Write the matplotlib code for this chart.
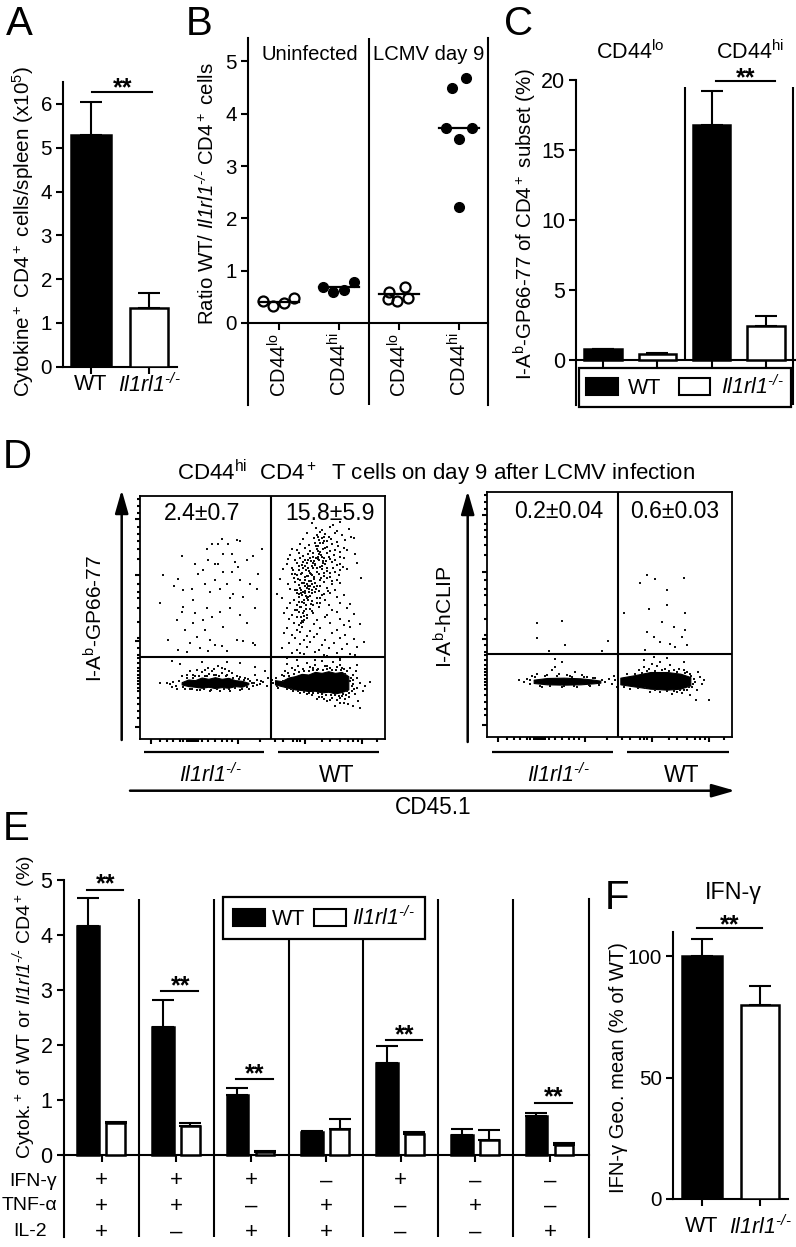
import numpy as np
import matplotlib
matplotlib.use('Agg')
import matplotlib.pyplot as plt
from matplotlib.patches import FancyArrowPatch, Patch
from matplotlib.lines import Line2D

W, H = 796, 1247
plt.rcParams['font.family'] = ['Liberation Sans', 'DejaVu Sans']
plt.rcParams['mathtext.fontset'] = 'custom'
plt.rcParams['mathtext.rm'] = 'Liberation Sans'
plt.rcParams['mathtext.it'] = 'Liberation Sans:italic'
plt.rcParams['mathtext.cal'] = 'Liberation Sans:italic'
plt.rcParams['mathtext.default'] = 'regular'
plt.rcParams['axes.linewidth'] = 1.5
plt.rcParams['font.size'] = 14.8

KO = '$\\mathcal{Il1rl1}^{\\mathcal{\u2010/\u2010}}$'

# panel A
a_means = [5.28, 1.35]
a_errs = [0.77, 0.34]
a_labels = ['WT', KO]

# panel B, ratios per group with sideways offset of each dot
b_groups = ['CD44$^{lo}$', 'CD44$^{hi}$', 'CD44$^{lo}$', 'CD44$^{hi}$']
b_values = [[0.42, 0.33, 0.39, 0.47],
            [0.68, 0.60, 0.64, 0.79],
            [0.60, 0.68, 0.45, 0.43, 0.47],
            [3.72, 4.50, 3.51, 3.73, 4.68, 2.22]]
b_offsets = [[-0.26, -0.09, 0.09, 0.26],
             [-0.26, -0.09, 0.09, 0.26],
             [-0.17, 0.10, -0.18, -0.04, 0.15],
             [-0.22, -0.12, 0.0, 0.21, 0.12, 0.0]]
b_medians = [0.41, 0.68, 0.55, 3.73]
b_open = [True, False, True, False]

# panel C
c_means = [0.76, 0.43, 16.8, 2.4]
c_errs = [0.05, 0.04, 2.4, 0.74]

# panel E
e_wt = [4.16, 2.33, 1.09, 0.42, 1.67, 0.37, 0.71]
e_wt_err = [0.51, 0.49, 0.12, 0.01, 0.31, 0.11, 0.05]
e_ko = [0.58, 0.53, 0.06, 0.47, 0.38, 0.27, 0.18]
e_ko_err = [0.02, 0.05, 0.01, 0.18, 0.04, 0.18, 0.04]
e_ifn = ['+', '+', '+', '–', '+', '–', '–']
e_tnf = ['+', '+', '–', '+', '–', '+', '–']
e_il2 = ['+', '–', '+', '+', '–', '–', '+']
e_sig = [(0, 4.82), (1, 2.98), (2, 1.38), (4, 2.09), (6, 0.95)]

# panel F
f_means = [100, 80]
f_errs = [7, 7.6]

# panel D, flow plots. channels 0-735 on both axes
d_yticks = [665, 495, 295, 36]
d_yminor = [725, 705, 685, 640, 620, 600, 575, 545, 470, 445, 425, 395, 355, 305, 275, 255, 245, 230,
            215, 205, 195, 185, 175, 165, 155, 145, 125, 105, 85, 65]
d_xticks = [32, 295, 495, 665]
d_xminor = [60, 80, 100, 120, 130, 140, 145, 150, 155, 160, 165, 170, 175, 185, 205, 225, 245, 260, 275,
            360, 405, 430, 460, 470, 480, 545, 570, 600, 625, 640, 655, 710]

d1_wt_cloud = [(515,652),(578,648),(601,655),(528,637),(546,631),(571,640),(590,628),(626,634),(500,622),(531,616),(541,626),(556,619),
(566,612),(586,622),(606,617),(632,611),(490,604),(521,608),(536,601),(551,610),(560,598),(573,604),(591,596),(616,601),(641,607),(480,590),
(506,586),(525,594),(535,583),(548,592),(561,581),(576,589),(595,585),(611,578),(455,576),(471,571),(495,578),(510,570),(530,574),(541,566),
(555,577),(571,569),(585,573),(601,566),(621,572),(451,558),(476,563),(490,555),(505,561),(520,552),(536,559),(545,550),(560,562),(581,556),
(600,552),(646,560),(445,545),(466,540),(481,548),(496,541),(511,547),(522,538),(535,544),(550,537),(566,549),(586,541),(611,546),(440,528),
(471,533),(486,526),(501,531),(515,524),(526,530),(540,521),(556,528),(576,534),(590,525),(652,531),(430,513),(456,518),(476,510),(490,516),
(506,509),(518,517),(531,506),(546,514),(561,508),(580,518),(600,511),(621,515),(455,500),(471,495),(486,503),(500,494),(512,500),(523,491),
(536,498),(551,492),(570,502),(596,496),(420,485),(461,487),(481,480),(496,489),(508,478),(521,486),(541,480),(560,488),(591,481),(662,487),
(445,470),(465,474),(476,466),(491,472),(505,464),(516,470),(531,462),(551,474),(576,468),(601,471),(451,455),(466,450),(481,458),(496,448),
(506,453),(521,460),(536,447),(561,456),(586,450),(410,440),(471,443),(486,436),(496,441),(511,434),(526,444),(546,436),(571,441),(611,437),
(425,426),(461,421),(476,429),(491,420),(501,427),(516,418),(531,425),(556,420),(591,428),(451,411),(471,406),(486,413),(498,404),(512,409),
(541,412),(566,405),(601,410),(631,407),(441,396),(466,391),(481,399),(491,388),(511,394),(536,398),(576,390),(621,396),(431,380),(456,376),
(476,384),(491,372),(520,380),(561,375),(591,383),(641,378),(446,364),(471,368),(486,358),(500,366),(530,360),(556,368),(601,362),(461,350),
(478,345),(490,353),(521,347),(571,352),(611,345),(626,356),(661,349),(441,335),(471,331),(486,338),(511,328),(541,336),(591,330),(631,338),
(431,320),(456,315),(481,323),(501,312),(531,319),(576,322),(616,314),(466,305),(491,300),(521,308),(556,298),(601,306),(641,301),(446,290),
(481,286),(511,293),(546,284),(581,291),(621,286),(671,294),(426,275),(471,270),(501,278),(536,268),(566,276),(606,271),(651,279),(456,260),
(491,256),(526,263),(551,254),(591,261),(631,257),(441,245),(481,259),(516,247),(561,251),(601,246),(646,255),(681,249)]
# darkest part of that cloud, read separately
d1_wt_dense = [(533,552),(538,541),(528,546),(543,558),(548,531),(518,532),(524,526),(530,518),(513,538),(503,518),(498,510),(509,503),(516,496),
(504,492),(522,484),(513,478),(494,480),(487,472),(502,469),(511,462),(494,462),(483,452),(500,456),(508,446),(516,452),(525,472),(490,446),
(484,443),(498,434),(505,428),(476,440),(470,452),(515,442),(527,455),(539,462),(544,486),(553,503),(546,522),(559,538),(552,548),(570,544),
(561,518),(482,498),(474,484),(466,500),(458,510),(489,534),(478,524),(495,524),(505,540),(520,562),(535,570),(548,575),(528,584),(540,592),
(552,600),(545,607),(534,612),(492,410),(484,400),(497,392),(488,380),(500,374),(482,370),(492,360),(484,350),(470,390),(478,415),(505,420),
(520,405),(530,412),(515,388),(540,425),(552,440),(564,448),(575,478),(570,490),(585,505),(600,530),(610,520)]
d1_ko_cloud = [(125,553),(70,495),(115,483),(102,462),(200,574),(235,590),(290,603),(300,600),(275,560),(225,528),(235,530),(285,535),(295,520),
(365,575),(320,540),(340,555),(130,450),(160,420),(195,470),(210,445),(240,455),(260,470),(280,440),(310,430),(175,500),(190,510),(165,530),
(250,505),(225,480),(300,480),(330,470),(350,455),(125,385),(130,400),(165,380),(160,350),(200,395),(215,370),(190,360),(240,385),(270,395),
(300,375),(345,395),(110,360),(135,330),(195,330),(210,300),(225,285),(170,310),(245,280),(250,340),(290,300),(340,290),(310,295),(345,285),
(150,290),(180,275),(205,265),(260,265),(115,270),(140,262),(85,300),(60,410),(245,605),(205,540),(265,590),(155,455),(275,505),(250,560),
(215,590),(355,500),(270,425),(320,350)]
d1_ko_blob_x = [125, 145, 165, 185, 205, 225, 245, 265, 285, 305, 325]
d1_ko_blob_lo = [165, 160, 158, 155, 158, 154, 157, 155, 160, 158, 166]
d1_ko_blob_hi = [172, 180, 178, 186, 182, 187, 182, 185, 178, 176, 170]
d1_ko_stray = [(80,170),(90,165),(100,172),(108,160),(95,158),(112,150),(125,190),(140,195),(150,205),(165,190),(172,210),(185,202),(195,192),
(205,215),(215,205),(228,195),(235,220),(245,200),(255,212),(262,195),(275,200),(290,192),(300,188),(315,185),(325,180),(335,170),(340,160),
(350,178),(360,165),(370,172),(380,160),(385,185),(328,150),(300,148),(270,146),(240,145),(210,146),(180,148),(155,150),(135,152),(260,232),
(185,232),(120,228),(95,235),(300,230),(345,218),(375,205),(60,168),(345,195),(118,176),(130,158),(142,184),(150,152),(160,186),(170,148),
(178,192),(192,150),(200,190),(214,149),(222,193),(232,150),(238,190),(252,151),(258,191),(268,150),(278,186),(286,153),(296,182),(306,152),
(312,178),(320,158),(330,176),(342,168),(352,162),(362,176),(158,194),(208,196),(268,206),(222,212),(196,208),(245,214)]
d1_wt_blob_x = [405, 425, 445, 465, 485, 505, 525, 545, 565, 585, 605, 625]
d1_wt_blob_lo = [165, 160, 155, 150, 148, 145, 146, 141, 143, 138, 142, 150]
d1_wt_blob_hi = [178, 175, 186, 190, 197, 195, 203, 200, 205, 200, 203, 190]
d1_wt_stray = [(400,170),(410,160),(395,178),(408,185),(425,195),(435,205),(445,200),(455,215),(465,208),(475,222),(490,212),(500,230),(510,218),
(525,225),(535,212),(545,235),(555,220),(570,215),(580,232),(590,218),(600,225),(612,212),(622,205),(630,215),(640,195),(648,205),(652,185),
(630,175),(640,165),(650,155),(660,170),(668,145),(675,160),(635,145),(645,135),(628,128),(615,120),(605,130),(590,118),(575,125),(560,115),
(545,128),(530,120),(515,132),(500,135),(480,140),(460,145),(440,150),(625,105),(655,115),(612,108),(640,100),(660,95),(690,172),(440,228),
(470,240),(525,238),(600,240),(430,175),(600,110),(650,225),(585,100),(432,190),(448,192),(462,198),(478,204),(492,205),(508,206),(520,210),
(532,208),(548,209),(560,212),(575,210),(588,208),(602,208),(615,198),(632,186),(640,178),(636,160),(642,152),(628,138),(618,134),(608,136),
(596,130),(586,132),(572,134),(558,134),(546,136),(534,138),(520,140),(506,138),(492,142),(474,146),(452,150),(415,155),(620,145),(600,125),
(570,118),(552,122),(538,128),(562,222),(518,214),(606,216)]

d2_ko_blob_x = [140, 180, 230, 280, 320, 340]
d2_ko_blob_lo = [162, 158, 157, 158, 161, 163]
d2_ko_blob_hi = [172, 177, 178, 176, 172, 169]
d2_wt_blob_x = [400, 440, 490, 540, 580, 610]
d2_wt_blob_lo = [158, 152, 145, 142, 145, 155]
d2_wt_blob_hi = [178, 185, 195, 195, 190, 180]
d2_ko_stray = [(95,172),(110,165),(120,175),(128,160),(135,182),(150,190),(165,150),(180,186),(195,200),(205,210),(215,190),(225,150),(240,185),
(255,180),(265,195),(270,150),(285,185),(300,180),(310,152),(325,178),(335,155),(345,172),(355,165),(365,175),(375,160),(385,170),(390,150),
(380,182),(205,235),(225,225),(128,170),(145,180),(160,153),(175,182),(190,152),(210,182),(232,153),(250,183),(262,153),(290,180),(305,156),(318,176)]
d2_wt_stray = [(410,150),(420,190),(430,145),(455,200),(470,210),(485,205),(495,220),(510,212),(520,225),(535,205),(550,215),(560,200),(575,205),
(590,200),(600,195),(610,190),(620,175),(625,165),(632,195),(640,180),(645,160),(650,170),(600,140),(585,132),(570,135),(555,130),(520,135),
(490,135),(615,150),(630,140),(610,125),(628,112),(665,112),(500,240),(540,238),(470,230),(590,225),(612,182),(618,160),(605,150),(592,140),
(578,140),(560,138),(540,138),(505,140),(475,148),(452,148),(445,188),(465,192),(480,198),(505,199),(525,200),(545,199),(570,196),(595,192)]
d2_up = [(150,343),(225,348),(150,297),(345,258),(235,275),(185,258),(362,287),(480,485),(505,475),(460,462),(590,478),(485,385),(410,372),(540,395),
(525,345),(560,330),(480,315),(595,373),(500,300),(520,285),(550,278),(565,270),(595,320),(585,300),(600,275),(475,262),(620,250),(540,440)]

fig = plt.figure(figsize=(W / 100, H / 100), dpi=100)


def px_ax(x0, y0, x1, y1):
    return fig.add_axes([x0 / W, 1 - y1 / H, (x1 - x0) / W, (y1 - y0) / H])


def ptxt(x, y, s, **kw):
    kw.setdefault('ha', 'center')
    kw.setdefault('va', 'center')
    return fig.text(x / W, 1 - y / H, s, **kw)


def pline(x0, y0, x1, y1, lw=1.5):
    fig.add_artist(Line2D([x0 / W, x1 / W], [1 - y0 / H, 1 - y1 / H], color='k', lw=lw,
                          transform=fig.transFigure, solid_capstyle='butt'))


def parrow(x0, y0, x1, y1):
    fig.add_artist(FancyArrowPatch((x0 / W, 1 - y0 / H), (x1 / W, 1 - y1 / H), transform=fig.transFigure,
                                   arrowstyle='-|>,head_length=14,head_width=4', mutation_scale=1,
                                   lw=1.8, color='k', shrinkA=0, shrinkB=0))


def stars(ax, x, y):
    ax.annotate('**', (x, y), xytext=(0, -3), textcoords='offset points', ha='center', va='center',
                fontsize=18, fontweight='bold', annotation_clip=False)


def bars(ax, xs, vals, errs, width, color):
    ax.bar(xs, vals, width, color=color, edgecolor='k', lw=1.8, zorder=3)
    ax.errorbar(xs, vals, yerr=[np.zeros(len(vals)), errs], fmt='none', ecolor='k',
                elinewidth=1.5, capsize=8, capthick=1.5, zorder=2)


def clean(ax):
    ax.spines['top'].set_visible(False)
    ax.spines['right'].set_visible(False)
    ax.tick_params(length=5, width=1.5, pad=3)


for letter, x, y in [('A', 19, 24), ('B', 199, 24), ('C', 519, 24), ('D', 17, 457),
                     ('E', 16, 829), ('F', 617, 898)]:
    ptxt(x, y, letter, fontsize=29)

# A
ax = px_ax(63, 82, 177, 366.7)
clean(ax)
bars(ax, [0], a_means[:1], a_errs[:1], 0.68, 'k')
bars(ax, [1], a_means[1:], a_errs[1:], 0.66, 'w')
ax.set_xlim(-0.483, 1.483)
ax.set_ylim(0, 6.5)
ax.set_xticks([0, 1], a_labels, fontsize=15.5)
ax.tick_params(axis='x', pad=0)
ax.set_yticks(range(7))
ax.plot([0.02, 1.05], [6.27, 6.27], 'k', lw=1.5, clip_on=False)
stars(ax, 0.55, 6.44)
ptxt(23, 232, 'Cytokine$^+$ CD4$^+$ cells/spleen (x10$^5$)', rotation=90, fontsize=14.9)

# B
ax = px_ax(248, 38, 488, 405)
ax.spines['top'].set_visible(False)
ax.spines['bottom'].set_position(('data', 0))
ax.tick_params(length=5, width=1.5, pad=3)
ax.tick_params(axis='x', pad=2)
ax.set_xlim(-0.511, 3.48)
ax.set_ylim(-1.568, 5.449)
ax.set_yticks(range(6))
ax.set_xticks(range(4), b_groups, rotation=90, fontsize=14.5)
ax.axvline(1.5, color='k', lw=1.5)
for i in range(4):
    xs = i + np.array(b_offsets[i])
    if b_open[i]:
        ax.plot(xs, b_values[i], 'o', ms=7.2, mfc='none', mec='k', mew=1.6, zorder=3)
    else:
        ax.plot(xs, b_values[i], 'o', ms=7, color='k', zorder=3)
    ax.plot([i - 0.33, i + 0.33], [b_medians[i]] * 2, 'k', lw=1.6, zorder=4)
ptxt(310, 55, 'Uninfected', fontsize=14.6)
ptxt(429, 55, 'LCMV day 9', fontsize=14.6)
ptxt(207, 194, 'Ratio WT/ ' + KO + ' CD4$^+$ cells', rotation=90, fontsize=14.7)

# C
ax = px_ax(576, 80, 796, 405)
ax.spines['top'].set_visible(False)
ax.spines['right'].set_visible(False)
ax.spines['bottom'].set_position(('data', 0))
ax.tick_params(length=5, width=1.5, pad=3)
ax.set_xlim(-0.496, 3.55)
ax.set_ylim(-3.21, 20)
ax.set_yticks([0, 5, 10, 15, 20])
ax.set_xticks(range(4), [''] * 4)
ax.tick_params(axis='y', labelsize=15.5)
ax.vlines(1.5, 0, 19.5, color='k', lw=1.5)
ax.vlines(3.5, -3.21, 19.5, color='k', lw=1.5)
c_colors = ['k', 'w', 'k', 'w']
for i in range(4):
    bars(ax, [i], [c_means[i]], [c_errs[i]], 0.69, c_colors[i])
ax.plot([2.07, 3.17], [19.93, 19.93], 'k', lw=1.5, clip_on=False)
stars(ax, 2.62, 20.4)
ptxt(630, 52, 'CD44$^{lo}$', fontsize=15.5)
ptxt(750, 52, 'CD44$^{hi}$', fontsize=15.5)
ptxt(525, 224, 'I-A$^b$-GP66-77 of CD4$^+$ subset (%)', rotation=90, fontsize=14.8)
leg_handles = [Patch(fc='k', ec='k', lw=1.5, label='WT'), Patch(fc='w', ec='k', lw=1.5, label=KO)]
leg = ax.legend(handles=leg_handles, loc='center', bbox_to_anchor=(685 / W, 1 - 387.5 / H),
                bbox_transform=fig.transFigure, ncol=2, fancybox=False, edgecolor='k', framealpha=1,
                fontsize=15.5, handlelength=1.45, handleheight=0.85, columnspacing=0.8, handletextpad=0.5,
                borderpad=0.35, borderaxespad=0)
leg.get_frame().set_linewidth(1.6)
leg.set_zorder(10)


# D
def flow(box, vx, hy, dots, blobs):
    ax = px_ax(*box)
    ax.set_xlim(0, 735)
    ax.set_ylim(0, 735)
    for s in ax.spines.values():
        s.set_linewidth(1.3)
    ax.set_xticks(d_xticks, [''] * len(d_xticks))
    ax.set_xticks(d_xminor, [''] * len(d_xminor), minor=True)
    ax.set_yticks(d_yticks, [''] * len(d_yticks))
    ax.set_yticks(d_yminor, [''] * len(d_yminor), minor=True)
    ax.tick_params(which='major', length=3.4, width=1.5)
    ax.tick_params(which='minor', length=2.2, width=1.5)
    for bx, lo, hi in blobs:
        ax.fill_between(bx, lo, hi, color='k', lw=0.8, zorder=2)
    pts = np.array([p for group in dots for p in group])
    ax.scatter(pts[:, 0], pts[:, 1], s=0.7, color='#111111', marker='s', linewidths=0, zorder=2)
    ax.axvline(vx, color='k', lw=1.5, zorder=4)
    ax.axhline(hy, color='k', lw=1.5, zorder=4)


flow((140, 496, 385, 739), 394, 248, [d1_wt_cloud, d1_wt_dense, d1_ko_cloud, d1_ko_stray, d1_wt_stray],
     [(d1_ko_blob_x, d1_ko_blob_lo, d1_ko_blob_hi), (d1_wt_blob_x, d1_wt_blob_lo, d1_wt_blob_hi)])
flow((487, 492, 732, 737), 394, 248, [d2_ko_stray, d2_wt_stray, d2_up],
     [(d2_ko_blob_x, d2_ko_blob_lo, d2_ko_blob_hi), (d2_wt_blob_x, d2_wt_blob_lo, d2_wt_blob_hi)])

ptxt(436, 473, 'CD44$^{hi}$  CD4$^+$  T cells on day 9 after LCMV infection', fontsize=16)
for x, y, s in [(202, 513, '2.4±0.7'), (330, 513, '15.8±5.9'), (559, 512, '0.2±0.04'), (675, 512, '0.6±0.03')]:
    ptxt(x, y, s, fontsize=16.6)
for x0, x1 in [(144, 264), (278, 379), (492, 613), (627, 729)]:
    pline(x0, 752, x1, 752, lw=1.6)
ptxt(210, 775, KO, fontsize=15.5)
ptxt(337, 775, 'WT', fontsize=16.5)
ptxt(558, 775, KO, fontsize=15.5)
ptxt(682, 775, 'WT', fontsize=16.5)
ptxt(95, 618, 'I-A$^b$-GP66-77', rotation=90, fontsize=15)
ptxt(445, 617, 'I-A$^b$-hCLIP', rotation=90, fontsize=15.2)
ptxt(433, 808, 'CD45.1', fontsize=16.3)
parrow(121.7, 740, 121.7, 490)
parrow(467.7, 742, 467.7, 491)
parrow(130, 790.7, 735, 790.7)

# E
ax = px_ax(63.5, 880, 589, 1237)
ax.spines['top'].set_visible(False)
ax.spines['bottom'].set_position(('data', 0))
ax.spines['right'].set_bounds(-1.49, 4.65)
ax.tick_params(length=5, width=1.5, pad=3)
ax.set_xlim(-0.511, 6.52)
ax.set_ylim(-1.49, 5)
ax.set_yticks(range(6))
ax.tick_params(axis='y', labelsize=15.5)
ax.set_xticks(range(7), [''] * 7)
ax.vlines(np.arange(0.5, 6), -1.49, 4.65, color='k', lw=1.5)
xpos = np.arange(7)
bars(ax, xpos - 0.183, e_wt, e_wt_err, 0.29, 'k')
bars(ax, xpos + 0.185, e_ko, e_ko_err, 0.25, 'w')
for i, y in e_sig:
    ax.plot([i - 0.2, i + 0.29], [y, y], 'k', lw=1.5, zorder=5)
    stars(ax, i + 0.05, y + 0.17)
for row, y in [(e_ifn, -0.47), (e_tnf, -0.93), (e_il2, -1.40)]:
    for i, s in enumerate(row):
        ax.text(i, y, s, ha='center', va='center', fontsize=16)
ptxt(57, 1181, 'IFN-γ', ha='right', fontsize=14)
ptxt(57, 1206, 'TNF-α', ha='right', fontsize=14)
ptxt(47, 1232, 'IL-2', ha='right', fontsize=14)
ptxt(24, 1007, 'Cytok.$^+$ of WT or ' + KO + ' CD4$^+$ (%)', rotation=90, fontsize=14)
leg = ax.legend(handles=leg_handles, loc='center', bbox_to_anchor=(324 / W, 1 - 918 / H),
                bbox_transform=fig.transFigure, ncol=2, fancybox=False, edgecolor='k', framealpha=1,
                fontsize=15.5, handlelength=1.5, handleheight=0.85, columnspacing=0.4, handletextpad=0.3,
                borderpad=0.45, borderaxespad=0)
leg.get_frame().set_linewidth(1.6)
leg.set_zorder(10)

# F
ax = px_ax(673, 932, 788, 1199)
clean(ax)
ax.set_xlim(-0.5, 1.48)
ax.set_ylim(0, 267 / 2.43)
bars(ax, [0], f_means[:1], f_errs[:1], 0.68, 'k')
bars(ax, [1], f_means[1:], f_errs[1:], 0.66, 'w')
ax.set_xticks([0, 1], a_labels, fontsize=15.5)
ax.tick_params(axis='x', pad=7)
ax.set_yticks([0, 50, 100])
ax.plot([-0.09, 1.03], [111.5, 111.5], 'k', lw=1.5, clip_on=False)
stars(ax, 0.47, 114.5)
ptxt(733, 893, 'IFN-γ', fontsize=16.8)
ptxt(618, 1068, 'IFN-γ Geo. mean (% of WT)', rotation=90, fontsize=14.5)

fig.savefig('out.png', dpi=100)
